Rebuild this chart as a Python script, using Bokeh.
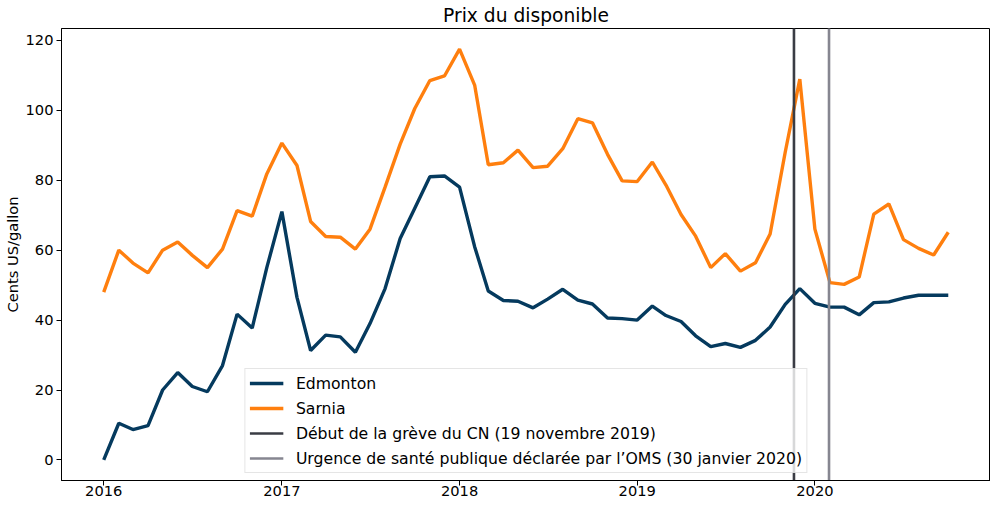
import pandas as pd
from bokeh.plotting import figure
from bokeh.models import Range1d, FixedTicker, DatetimeTickFormatter
from bokeh.embed import file_html
from bokeh.resources import INLINE

# ---- data ----
dates = pd.date_range("2016-01-01", "2020-10-01", freq="MS")

edmonton = [
    0.0, 10.5, 8.7, 9.8, 20.0, 25.0, 21.0, 19.5, 27.0, 41.7, 37.7, 55.0,
    71.0, 46.5, 31.3, 35.7, 35.2, 30.8, 39.0, 49.0, 63.3, 72.0, 81.0, 81.2,
    78.0, 61.0, 48.3, 45.6, 45.4, 43.5, 46.0, 48.8, 45.7, 44.6, 40.6, 40.4,
    40.0, 44.0, 41.3, 39.6, 35.5, 32.4, 33.3, 32.2, 34.2, 38.0, 44.5, 49.0,
    44.8, 43.7, 43.7, 41.5, 45.0, 45.2, 46.3, 47.1, 47.1, 47.1,
]
sarnia = [
    48.0, 60.0, 56.3, 53.5, 60.0, 62.3, 58.5, 55.0, 60.3, 71.3, 69.7, 81.8,
    90.6, 84.2, 68.2, 63.9, 63.7, 60.3, 66.0, 78.0, 90.3, 100.5, 108.5, 109.8,
    117.5, 107.2, 84.4, 85.0, 88.6, 83.6, 84.0, 89.0, 97.6, 96.4, 87.4, 79.8,
    79.6, 85.2, 78.6, 70.2, 64.0, 55.0, 59.0, 54.0, 56.4, 64.6, 88.0, 108.9,
    66.0, 50.7, 50.2, 52.3, 70.3, 73.2, 63.0, 60.5, 58.6, 65.1,
]
event_dates = [pd.Timestamp("2019-11-19"), pd.Timestamp("2020-01-30")]
event_labels = [
    "Début de la grève du CN (19 novembre 2019)",
    "Urgence de santé publique déclarée par l’OMS (30 janvier 2020)",
]
series_labels = ["Edmonton", "Sarnia"]
year_ticks = [pd.Timestamp(f"{y}-01-01") for y in [2016, 2017, 2018, 2019, 2020]]
y_ticks = [0, 20, 40, 60, 80, 100, 120]
title_text = "Prix du disponible"
y_label = "Cents US/gallon"

# ---- styles ----
FONT = "DejaVu Sans"
series_colors = ["#053A5E", "#FF7F0E"]
event_colors = ["#3A3C44", "#868690"]

# matplotlib-like 5% margins
xpad = (dates[-1] - dates[0]) * 0.05
ymin, ymax = min(edmonton + sarnia), max(edmonton + sarnia)
ypad = (ymax - ymin) * 0.05

p = figure(
    frame_width=929, frame_height=452,
    x_axis_type="datetime",
    x_range=Range1d(dates[0] - xpad, dates[-1] + xpad),
    y_range=Range1d(ymin - ypad, ymax + ypad),
    output_backend="svg", toolbar_location=None,
    min_border_left=55, min_border_right=0, min_border_top=28, min_border_bottom=20,
    title=title_text,
)
p.title.align = "center"
p.title.text_font = FONT
p.title.text_font_size = "18.67px"
p.title.text_font_style = "normal"
p.title.text_color = "black"
p.title.standoff = 5
p.title.offset = 0

p.xgrid.visible = False
p.ygrid.visible = False
p.outline_line_color = "black"
p.outline_line_width = 1
p.background_fill_color = "white"
p.border_fill_color = "white"

for ax in (p.xaxis[0], p.yaxis[0]):
    ax.major_tick_in = 0
    ax.major_tick_out = 5
    ax.minor_tick_in = 0
    ax.minor_tick_out = 0
    ax.major_label_text_font = FONT
    ax.major_label_text_font_size = "14.67px"
    ax.major_label_text_color = "black"
    ax.axis_line_color = "black"
    ax.major_tick_line_color = "black"

p.xaxis[0].ticker = FixedTicker(ticks=[t.value / 1e6 for t in year_ticks])
p.xaxis[0].formatter = DatetimeTickFormatter(years="%Y", months="%Y", days="%Y", hours="%Y")
p.xaxis[0].major_label_standoff = 0

p.yaxis[0].ticker = FixedTicker(ticks=y_ticks)
p.yaxis[0].major_label_standoff = 3
p.yaxis[0].axis_label = y_label
p.yaxis[0].axis_label_text_font = FONT
p.yaxis[0].axis_label_text_font_size = "14.67px"
p.yaxis[0].axis_label_text_font_style = "normal"
p.yaxis[0].axis_label_text_color = "black"
p.yaxis[0].axis_label_standoff = 2

for vals, col, lab in zip([edmonton, sarnia], series_colors, series_labels):
    p.line(dates, vals, line_color=col, line_width=3.4, legend_label=lab)

for d, col, lab in zip(event_dates, event_colors, event_labels):
    p.line([d, d], [ymin - 100, ymax + 100], line_color=col, line_width=2.6, legend_label=lab)

lg = p.legend[0]
lg.location = "bottom_center"
lg.margin = 7
lg.padding = 4
lg.spacing = 5
lg.label_height = 20
lg.glyph_height = 20
lg.glyph_width = 34
lg.label_standoff = 13
lg.label_text_font = FONT
lg.label_text_font_size = "15.7px"
lg.label_text_color = "black"
lg.border_line_color = "#cccccc"
lg.border_line_width = 1
lg.background_fill_color = "white"
lg.background_fill_alpha = 0.8

open("out.html", "w").write(file_html(p, INLINE))
